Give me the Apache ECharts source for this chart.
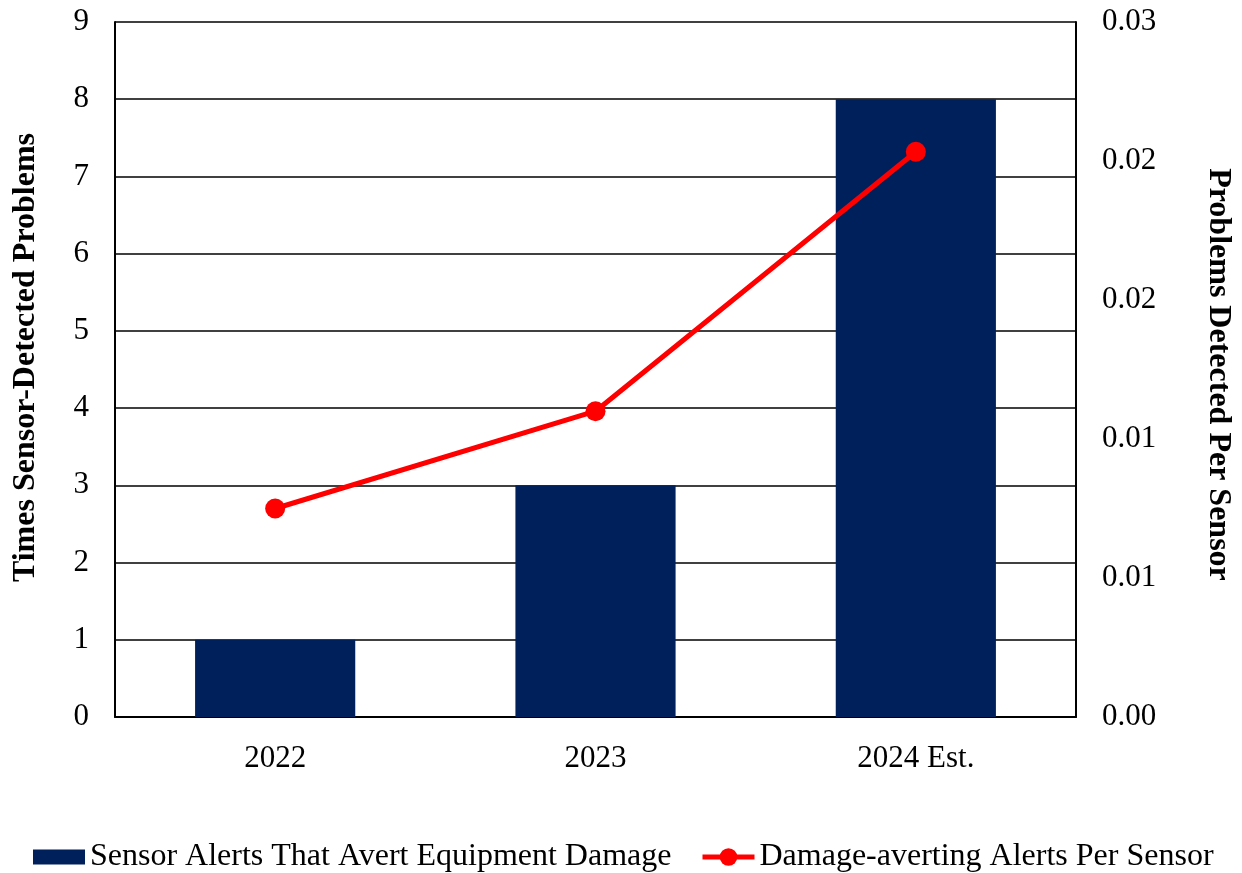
<!DOCTYPE html>
<html>
<head>
<meta charset="utf-8">
<script src="https://cdn.jsdelivr.net/npm/echarts@6/dist/echarts.min.js"></script>
<style>
html,body{margin:0;padding:0;background:#fff;}
#chart{width:1242px;height:873px;}
</style>
</head>
<body>
<div id="chart"></div>
<script>
const categories = ['2022', '2023', '2024 Est.'];
const alertsValues = [1, 3, 8];
const perSensorValues = [0.009, 0.0132, 0.0244];
const barName = 'Sensor Alerts That Avert Equipment Damage';
const lineName = 'Damage-averting Alerts Per Sensor';
const leftTitle = 'Times Sensor-Detected Problems';
const rightTitle = 'Problems Detected Per Sensor';

const FONT = '"Liberation Serif", "Times New Roman", serif';
const TICK = 31;
const chart = echarts.init(document.getElementById('chart'));
chart.setOption({
  backgroundColor: '#fff',
  animation: false,
  textStyle: { fontFamily: FONT, color: '#000' },
  grid: { left: 115, right: 166, top: 22, bottom: 156 },
  legend: [
    {
      top: 836, left: 28,
      itemWidth: 52, itemHeight: 15,
      textStyle: { fontFamily: FONT, fontSize: 32, color: '#000' },
      data: [{ name: barName, icon: 'rect' }]
    },
    {
      top: 836, left: 695,
      itemWidth: 52, itemHeight: 22,
      lineStyle: { width: 5 },
      textStyle: { fontFamily: FONT, fontSize: 32, color: '#000' },
      data: [{ name: lineName }]
    }
  ],
  xAxis: {
    type: 'category',
    data: categories,
    axisLine: { show: true, lineStyle: { color: '#000', width: 2 } },
    axisTick: { show: false },
    axisLabel: { fontFamily: FONT, fontSize: TICK, color: '#000', margin: 26 }
  },
  yAxis: [
    {
      type: 'value', min: 0, max: 9, interval: 1,
      name: leftTitle, nameLocation: 'middle', nameGap: 73, nameRotate: 90,
      nameTextStyle: { fontFamily: FONT, fontSize: 32, fontWeight: 'bold', color: '#000', padding: [0, 0, 0, 24] },
      axisLine: { show: true, lineStyle: { color: '#000', width: 2 } },
      axisTick: { show: false },
      axisLabel: { fontFamily: FONT, fontSize: TICK, color: '#000', margin: 26 },
      splitLine: { show: true, lineStyle: { color: '#000', width: 1.5 } }
    },
    {
      type: 'value', min: 0, max: 0.03, interval: 0.006, position: 'right',
      name: rightTitle, nameLocation: 'middle', nameGap: 126, nameRotate: -90,
      nameTextStyle: { fontFamily: FONT, fontSize: 32, fontWeight: 'bold', color: '#000', padding: [0, 0, 0, 10] },
      axisLine: { show: true, lineStyle: { color: '#000', width: 2 } },
      axisTick: { show: false },
      axisLabel: { fontFamily: FONT, fontSize: TICK, color: '#000', margin: 26,
        formatter: v => v.toFixed(2) },
      splitLine: { show: false }
    }
  ],
  series: [
    {
      name: barName, type: 'bar', yAxisIndex: 0,
      data: alertsValues, barWidth: '50%',
      itemStyle: { color: '#00205B' }
    },
    {
      name: lineName, type: 'line', yAxisIndex: 1,
      data: perSensorValues,
      symbol: 'circle', symbolSize: 20,
      lineStyle: { color: '#FF0000', width: 5 },
      itemStyle: { color: '#FF0000' }
    }
  ]
});
</script>
</body>
</html>
